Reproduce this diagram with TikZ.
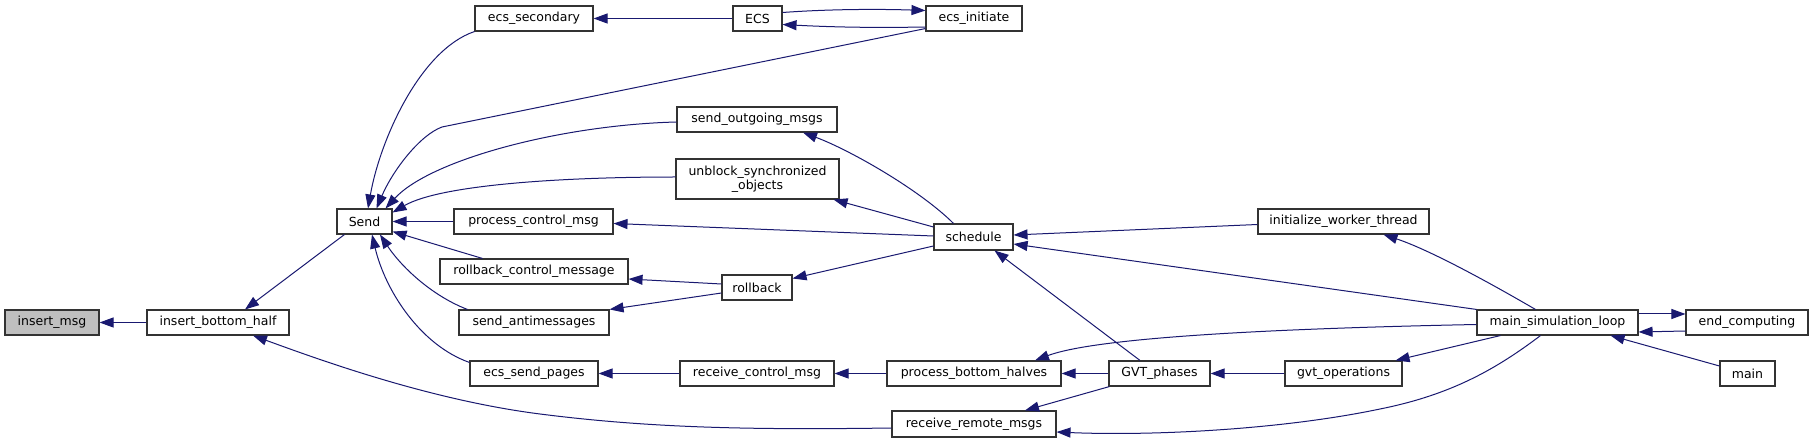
\documentclass[tikz,border=0pt]{standalone}
\usepackage{fontspec}
\setmainfont{DejaVu Sans}
\usetikzlibrary{arrows.meta,calc}
\definecolor{edgeblue}{HTML}{191970}
\begin{document}
\begin{tikzpicture}[x=1pt,y=-1pt,
  fn/.style={draw=black!80,line width=1.1pt,fill=white,inner sep=0pt,minimum height=25pt,
    font=\fontsize{12.5pt}{14pt}\selectfont,align=center},
  edge/.style={draw=edgeblue,line width=1pt,-{Triangle[length=14pt,width=10pt]}}]
\useasboundingbox (0,0) rectangle (1813,443);
\fill[white] (0,0) rectangle (1813,443);
% nodes
\node[fn,fill=black!25,minimum width=94pt] (insert_msg) at (52,322.5) {insert\_msg};
\node[fn,minimum width=142pt] (insert_bottom_half) at (218,322.5) {insert\_bottom\_half};
\node[fn,minimum width=55pt] (Send) at (364.5,221.5) {Send};
\node[fn,minimum width=118pt] (ecs_secondary) at (534,18.5) {ecs\_secondary};
\node[fn,minimum width=49pt] (ECS) at (757.5,18.5) {ECS};
\node[fn,minimum width=96pt] (ecs_initiate) at (974,18.5) {ecs\_initiate};
\node[fn,minimum width=160pt] (send_outgoing_msgs) at (757,119.5) {send\_outgoing\_msgs};
\node[fn,minimum width=163pt,minimum height=40pt] (unblock) at (757.5,179) {unblock\_synchronized\\\_objects};
\node[fn,minimum width=159pt] (process_control_msg) at (533.5,221.5) {process\_control\_msg};
\node[fn,minimum width=188pt] (rollback_control_message) at (534,271.5) {rollback\_control\_message};
\node[fn,minimum width=70pt] (rollback) at (757,287.5) {rollback};
\node[fn,minimum width=150pt] (send_antimessages) at (534,322.5) {send\_antimessages};
\node[fn,minimum width=128pt] (ecs_send_pages) at (534,373.5) {ecs\_send\_pages};
\node[fn,minimum width=154pt] (receive_control_msg) at (757,373.5) {receive\_control\_msg};
\node[fn,minimum width=79pt,minimum height=26pt] (schedule) at (973.5,237) {schedule};
\node[fn,minimum width=174pt] (process_bottom_halves) at (974,373.5) {process\_bottom\_halves};
\node[fn,minimum width=164pt,minimum height=26pt] (receive_remote_msgs) at (974,424) {receive\_remote\_msgs};
\node[fn,minimum width=101pt] (GVT_phases) at (1159.5,373.5) {GVT\_phases};
\node[fn,minimum width=171pt] (initialize_worker_thread) at (1343.5,221.5) {initialize\_worker\_thread};
\node[fn,minimum width=117pt] (gvt_operations) at (1343.5,373.5) {gvt\_operations};
\node[fn,minimum width=161pt] (main_simulation_loop) at (1557.5,322.5) {main\_simulation\_loop};
\node[fn,minimum width=122pt] (end_computing) at (1747,322.5) {end\_computing};
\node[fn,minimum width=55pt] (main) at (1747.5,373.5) {main};
% edges
\draw[edge] (insert_bottom_half.west) -- (insert_msg.east);
\draw[edge] ($(Send.south west)+(8,0)$) -- ($(insert_bottom_half.north)+(27,0)$);
\draw[edge] ($(receive_remote_msgs.west)+(0,4)$) .. controls (750,430) and (650,428) .. (540,414)
   .. controls (430,400) and (320,360) .. ($(insert_bottom_half.south)+(35,0)$);
\draw[edge] (ecs_secondary.south west) .. controls (420,50) and (380,140) .. ($(Send.north)+(3.5,0)$);
\draw[edge] ($(ecs_initiate.south west)+(0,-3)$) -- (442,127) .. controls (420,135) and (393,170) .. ($(Send.north)+(12,0)$);
\draw[edge] ($(send_outgoing_msgs.west)+(0,2.5)$) .. controls (560,125) and (430,160) .. ($(Send.north)+(21,0)$);
\draw[edge] ($(unblock.west)+(0,-2)$) .. controls (560,177) and (440,185) .. ($(Send.east)+(0,-9)$);
\draw[edge] (process_control_msg.west) -- (Send.east);
\draw[edge] ($(rollback_control_message.north west)+(43,0)$) -- ($(Send.south east)+(0,-3)$);
\draw[edge] ($(send_antimessages.north west)+(9,0)$) .. controls (430,295) and (400,265) .. ($(Send.south)+(15.5,0)$);
\draw[edge] ($(ecs_send_pages.north west)+(0,2)$) .. controls (420,345) and (385,290) .. ($(Send.south)+(7.5,0)$);
\draw[edge] (ECS.west) -- (ecs_secondary.east);
\draw[edge] ($(ecs_initiate.west)+(0,8.5)$) .. controls (870,28) and (830,27) .. ($(ECS.east)+(0,6)$);
\draw[edge] ($(ECS.east)+(0,-6)$) .. controls (830,9) and (880,9) .. ($(ecs_initiate.west)+(0,-8)$);
\draw[edge] ($(schedule.north)+(-20,0)$) .. controls (920,190) and (850,150) .. ($(send_outgoing_msgs.south)+(46,0)$);
\draw[edge] ($(schedule.west)+(0,-10)$) -- ($(unblock.south east)+(-6,0)$);
\draw[edge] ($(schedule.west)+(0,-1)$) -- ($(process_control_msg.east)+(0,2)$);
\draw[edge] ($(schedule.west)+(0,9)$) -- ($(rollback.east)+(0,-9)$);
\draw[edge] ($(rollback.west)+(0,-3.5)$) -- ($(rollback_control_message.east)+(0,7.5)$);
\draw[edge] ($(rollback.west)+(0,5.5)$) -- (send_antimessages.north east);
\draw[edge] (receive_control_msg.west) -- (ecs_send_pages.east);
\draw[edge] (process_bottom_halves.west) -- (receive_control_msg.east);
\draw[edge] (GVT_phases.west) -- (process_bottom_halves.east);
\draw[edge] (gvt_operations.west) -- (GVT_phases.east);
\draw[edge] ($(GVT_phases.north)+(-19.5,0)$) -- ($(schedule.south)+(21,0)$);
\draw[edge] ($(GVT_phases.south west)+(1,0)$) -- ($(receive_remote_msgs.north)+(51,0)$);
\draw[edge] ($(initialize_worker_thread.west)+(0,3)$) -- ($(schedule.east)+(0,-2)$);
\draw[edge] (main_simulation_loop.north west) -- ($(schedule.east)+(0,7)$);
\draw[edge] ($(main_simulation_loop.north)+(-22,0)$) .. controls (1490,283) and (1430,250) .. ($(initialize_worker_thread.south)+(40,0)$);
\draw[edge] ($(main_simulation_loop.west)+(0,2)$) .. controls (1300,328) and (1100,336) .. ($(process_bottom_halves.north)+(61,0)$);
\draw[edge] ($(main_simulation_loop.south west)+(24,0)$) -- ($(gvt_operations.north east)+(-7,0)$);
\draw[edge] ($(main_simulation_loop.south)+(-17,0)$) .. controls (1495,370) and (1450,395) .. (1380,409)
   .. controls (1280,430) and (1150,436) .. ($(receive_remote_msgs.east)+(0,8)$);
\draw[edge] ($(main_simulation_loop.east)+(0,-8.5)$) -- ($(end_computing.west)+(0,-8.5)$);
\draw[edge] ($(end_computing.west)+(0,8.5)$) -- ($(main_simulation_loop.east)+(0,9.5)$);
\draw[edge] ($(main.west)+(0,-7.5)$) -- ($(main_simulation_loop.south east)+(-28,0)$);
\end{tikzpicture}
\end{document}
